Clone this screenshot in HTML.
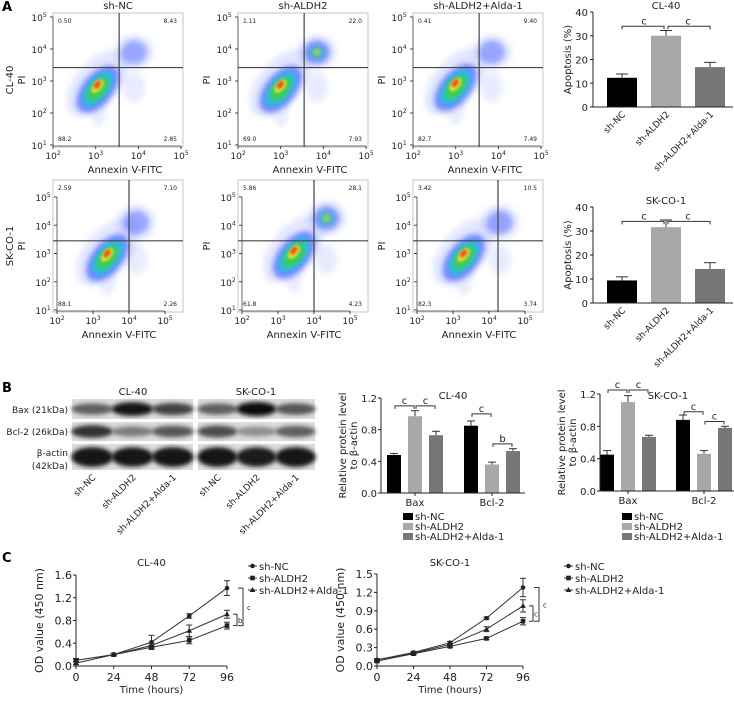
<!DOCTYPE html>
<html><head><meta charset="utf-8"><style>
html,body{margin:0;padding:0;background:#fff}
svg{display:block;font-family:"DejaVu Sans","Liberation Sans",sans-serif}
</style></head><body>
<svg id="fig" width="734" height="702" viewBox="0 0 734 702" xmlns="http://www.w3.org/2000/svg">
<defs>
<filter id="bl3" x="-50%" y="-50%" width="200%" height="200%"><feGaussianBlur stdDeviation="3"/></filter>
<filter id="bl2" x="-50%" y="-50%" width="200%" height="200%"><feGaussianBlur stdDeviation="2"/></filter>
<filter id="bl1" x="-50%" y="-50%" width="200%" height="200%"><feGaussianBlur stdDeviation="1.3"/></filter>
</defs>
</svg>
<script>
const NS="http://www.w3.org/2000/svg";
const svg=document.getElementById('fig');
function el(tag,attrs,parent,text){const e=document.createElementNS(NS,tag);for(const k in attrs)e.setAttribute(k,attrs[k]);if(text!==undefined)e.textContent=text;(parent||svg).appendChild(e);return e;}
function txt(x,y,s,size,parent,anchor,extra){const t=el('text',Object.assign({x:x,y:y,'font-size':size,'text-anchor':anchor||'middle',fill:'#222'},extra||{}),parent,s);return t;}

[['A',2,11],['B',2,392],['C',2,562]].forEach(([s,x,y])=>{const t=txt(x,y,s,13,null,'start',{'font-weight':'bold',fill:'#000'});});

// ---------- Flow cytometry ----------
const flowTitles=['sh-NC','sh-ALDH2','sh-ALDH2+Alda-1'];
const flowRows=['CL-40','SK-CO-1'];
const flowQuad=[[['0.50','8.43','88.2','2.85'],['1.11','22.0','69.0','7.93'],['0.41','9.40','82.7','7.49']],
                [['2.59','7.10','88.1','2.26'],['5.86','28.1','61.8','4.23'],['3.42','10.5','82.3','3.74']]];
const flowMain=[[[3.05,2.75],[3.0,2.75],[3.0,2.8]],[[3.4,2.85],[3.45,2.95],[3.3,2.85]]];
const flowLate=[[[3.9,3.9,0.5],[3.85,3.9,1],[3.85,3.9,0.55]],[[4.2,4.1,0.55],[4.35,4.25,0.9],[4.3,4.1,0.6]]];
const flowGate=[[[3.55,3.42],[3.55,3.42],[3.55,3.42]],[[4.0,3.45],[4.0,3.45],[4.25,3.45]]];
const colX=[53,238,413];
const rowBox=[[13,147],[180,312]];
const rowTick=[[17,145],[197,310]];
flowRows.forEach((rn,r)=>{
  colX.forEach((cx,c)=>{
    const g=el('g',{},svg);
    
    
    const w=130;
    const x0=cx, x1=cx+w;
    const tx0=(r===1)?cx+4:cx, tx1=(r===1)?cx+112:cx+128;
    const [ty5,ty1]=rowTick[r];
    const X=v=>tx0+(v-2)/3*(tx1-tx0);
    const Y=v=>ty1-(v-1)/4*(ty1-ty5);
    const [by0,by1]=rowBox[r];
    el('rect',{x:x0,y:by0,width:w,height:by1-by0,fill:'#fff',stroke:'#c4c4c4','stroke-width':1},g);
    const m=flowMain[r][c], lt=flowLate[r][c];
    const clip='cp'+r+c;
    const cp=el('clipPath',{id:clip},g);el('rect',{x:x0,y:by0,width:w,height:by1-by0},cp);
    const pg=el('g',{'clip-path':'url(#'+clip+')'},g);
    const mx=X(m[0]),my=Y(m[1]);
    const rot='rotate(-50 '+mx+' '+my+')';
    el('ellipse',{cx:mx+4,cy:my-4,rx:40,ry:22,fill:'#8fa0ff',opacity:0.25,filter:'url(#bl3)',transform:rot},pg);
    el('ellipse',{cx:mx,cy:my+14,rx:9,ry:24,fill:'#8fa0ff',opacity:0.2,filter:'url(#bl3)'},pg);
    el('ellipse',{cx:mx,cy:my,rx:28,ry:15,fill:'#2a46ff',opacity:0.6,filter:'url(#bl3)',transform:rot},pg);
    el('ellipse',{cx:mx,cy:my,rx:21,ry:11,fill:'#1ec8d8',opacity:0.8,filter:'url(#bl2)',transform:rot},pg);
    el('ellipse',{cx:mx,cy:my,rx:14,ry:7.5,fill:'#40d040',opacity:0.9,filter:'url(#bl2)',transform:rot},pg);
    el('ellipse',{cx:mx+2,cy:my-2,rx:8,ry:4.5,fill:'#f0e030',opacity:0.9,filter:'url(#bl1)',transform:rot},pg);
    el('ellipse',{cx:mx+3,cy:my-3,rx:4.5,ry:2.8,fill:'#f04020',opacity:0.9,filter:'url(#bl1)',transform:rot},pg);
    const lx=X(lt[0]),ly=Y(lt[1]),lw=lt[2];
    el('ellipse',{cx:lx,cy:ly,rx:20,ry:18,fill:'#8fa0ff',opacity:0.22,filter:'url(#bl3)'},pg);
    el('ellipse',{cx:lx,cy:ly,rx:13,ry:12,fill:'#2a46ff',opacity:0.25+0.3*lw,filter:'url(#bl3)'},pg);
    if(lw>0.8){el('ellipse',{cx:lx,cy:ly,rx:8,ry:7,fill:'#20c8b0',opacity:0.6,filter:'url(#bl2)'},pg);
      el('ellipse',{cx:lx,cy:ly,rx:4,ry:4,fill:'#b0d830',opacity:0.6,filter:'url(#bl1)'},pg);}
    el('ellipse',{cx:lx,cy:Y(2.8),rx:11,ry:15,fill:'#6a80ff',opacity:0.15,filter:'url(#bl3)'},pg);
    const g0=flowGate[r][c];
    el('line',{x1:X(g0[0]),x2:X(g0[0]),y1:by0,y2:by1,stroke:'#444','stroke-width':1.2},g);
    el('line',{x1:x0,x2:x1,y1:Y(g0[1]),y2:Y(g0[1]),stroke:'#444','stroke-width':1.2},g);
    const q=flowQuad[r][c];
    txt(x0+5,by0+10,q[0],6,g,'start');txt(x1-6,by0+10,q[1],6,g,'end');
    txt(x0+5,by1-6,q[2],6,g,'start');txt(x1-6,by1-6,q[3],6,g,'end');
    el('line',{x1:tx0,x2:tx1,y1:ty1+1,y2:ty1+1,stroke:'#444','stroke-width':0.8},g);
    el('line',{x1:tx0,x2:tx0,y1:ty5,y2:ty1+1,stroke:'#444','stroke-width':0.8},g);
    for(let d=2;d<=5;d++){const xx=X(d);el('line',{x1:xx,x2:xx,y1:ty1+1,y2:ty1+4,stroke:'#444'},g);
      const t=txt(xx,ty1+14,'10',9,g);el('tspan',{'font-size':6,dy:-4},t,String(d));}
    for(let d=1;d<=5;d++){const yy=Y(d);el('line',{x1:tx0-3,x2:tx0,y1:yy,y2:yy,stroke:'#444'},g);
      const t=txt(tx0-14,yy+4,'10',9,g,'middle');el('tspan',{'font-size':6,dy:-4},t,String(d));}
    const xl=txt((tx0+tx1)/2+8,ty1+28,'Annexin V-FITC',10,g);
    const yl=txt(0,0,'PI',10,g,'middle',{transform:'translate('+(x0-28)+','+((by0+by1)/2)+') rotate(-90)'});
    
    if(r===0){const t=txt((x0+x1)/2,9,flowTitles[c],10,g);}
    if(c===0){const t=txt(0,0,rn,10,g,'middle',{transform:'translate('+(x0-40)+','+((by0+by1)/2)+') rotate(-90)'});}
  });
});

// ---------- Apoptosis bar charts ----------
const apoGroups=['sh-NC','sh-ALDH2','sh-ALDH2+Alda-1'];
const apoCL40=[12.3,30.0,16.8];
const apoCL40Err=[1.6,2.2,2.0];
const apoSK=[9.4,31.6,14.2];
const apoSKErr=[1.5,3.0,2.6];
const apoTicks=[0,10,20,30,40];
const barFill=['#000','#a8a8a8','#777'];
function apoChart(name,title,vals,errs,y40,y0){
  const g=el('g',{},svg);
  const ax=593,xEnd=733;
  const Y=v=>y0-(v/40)*(y0-y40);
  const cx=[622,666,710];
  txt(666,y40-3,title,10,g);
  vals.forEach((v,i)=>{
    const b=el('rect',{x:cx[i]-15,y:Y(v),width:30,height:Y(0)-Y(v),fill:barFill[i]},g);
    
    el('line',{x1:cx[i],x2:cx[i],y1:Y(v),y2:Y(v+errs[i]),stroke:'#333','stroke-width':1},g);
    el('line',{x1:cx[i]-6,x2:cx[i]+6,y1:Y(v+errs[i]),y2:Y(v+errs[i]),stroke:'#333','stroke-width':1},g);
    txt(0,0,apoGroups[i],9,g,'end',{transform:'translate('+(cx[i]+4)+','+(y0+8)+') rotate(-45)'});
  });
  el('line',{x1:ax,x2:ax,y1:y40,y2:y0,stroke:'#222'},g);
  el('line',{x1:ax,x2:xEnd,y1:y0,y2:y0,stroke:'#222'},g);
  apoTicks.forEach(t=>{el('line',{x1:ax-3,x2:ax,y1:Y(t),y2:Y(t),stroke:'#222'},g);txt(ax-5,Y(t)+4,String(t),10,g,'end');});
  const yl=txt(0,0,'Apoptosis (%)',10,g,'middle',{transform:'translate('+(ax-22)+','+((y40+y0)/2)+') rotate(-90)'});
  
  const by=Y(34);
  el('path',{d:'M'+cx[0]+' '+(by+3)+'V'+by+'H'+(cx[1]-2)+'V'+(by+3),fill:'none',stroke:'#333'},g);
  el('path',{d:'M'+(cx[1]+2)+' '+(by+3)+'V'+by+'H'+cx[2]+'V'+(by+3),fill:'none',stroke:'#333'},g);
  txt((cx[0]+cx[1])/2,by-2,'c',10,g);txt((cx[1]+cx[2])/2,by-2,'c',10,g);
}
apoChart('apoptosis-chart-cl-40','CL-40',apoCL40,apoCL40Err,12,107);
apoChart('apoptosis-chart-sk-co-1','SK-CO-1',apoSK,apoSKErr,207,303);

// ---------- Western blot ----------
const wbRows=['Bax (21kDa)','Bcl-2 (26kDa)','β-actin'];
const wbIntCL=[[0.55,0.95,0.7],[0.8,0.4,0.6],[0.95,0.92,0.95]];
const wbIntSK=[[0.55,1.0,0.6],[0.65,0.3,0.55],[0.95,0.9,0.95]];
(function(){
  const g=el('g',{},svg);
  txt(133,395,'CL-40',10,g);txt(256,395,'SK-CO-1',10,g);
  const rowsY=[[399,419],[422,441],[444,470]];
  [[72,193,wbIntCL],[198,315,wbIntSK]].forEach(([x0,x1,ints])=>{
    rowsY.forEach(([y0,y1],ri)=>{
      el('rect',{x:x0,y:y0,width:x1-x0,height:y1-y0,fill:'#dcdcdc'},g);
      const lw=(x1-x0)/3;
      for(let l=0;l<3;l++){
        const v=ints[ri][l];const cy=(y0+y1)/2;
        const shade=Math.round(200-190*v);
        el('ellipse',{cx:x0+lw*(l+0.5),cy:cy,rx:lw*0.52,ry:(ri===2?7:4)+3*v,fill:'rgb('+shade+','+shade+','+shade+')',filter:'url(#bl2)'},g);
      }
    });
    const lw=(x1-x0)/3;
    apoGroups.forEach((n,l)=>{txt(0,0,n,9,g,'end',{transform:'translate('+(x0+lw*(l+0.5)+4)+','+478+') rotate(-45)'});});
  });
  txt(68,413,wbRows[0],9,g,'end');txt(68,435,wbRows[1],9,g,'end');
  txt(68,456,'β-actin',9,g,'end');txt(68,469,'(42kDa)',9,g,'end');
})();

// ---------- Protein bar charts ----------
const protCats=['Bax','Bcl-2'];
const protCL_NC=[0.48,0.85];
const protCL_AL=[0.97,0.36];
const protCL_AA=[0.73,0.53];
const protCL_Err=[[0.02,0.06],[0.07,0.03],[0.05,0.03]];
const protSK_NC=[0.45,0.88];
const protSK_AL=[1.10,0.46];
const protSK_AA=[0.67,0.78];
const protSK_Err=[[0.05,0.06],[0.08,0.04],[0.02,0.02]];
const protTicks=[0,0.4,0.8,1.2];
const protSeries=['sh-NC','sh-ALDH2','sh-ALDH2+Alda-1'];
function protChart(name,title,series,errs,ax,y12,y0,catC,bw,gap,xEnd,sigs,titleX){
  const g=el('g',{},svg);
  const Y=v=>y0-(v/1.2)*(y0-y12);
  txt(titleX,399,title,10,g);
  catC.forEach((c,ci)=>{
    series.forEach((s,si)=>{
      const cx=c+(si-1)*gap;const v=s[ci];
      const b=el('rect',{x:cx-bw/2,y:Y(v),width:bw,height:Y(0)-Y(v),fill:barFill[si]},g);
      
      const e=errs[si][ci];
      el('line',{x1:cx,x2:cx,y1:Y(v),y2:Y(v+e),stroke:'#333'},g);
      el('line',{x1:cx-4,x2:cx+4,y1:Y(v+e),y2:Y(v+e),stroke:'#333'},g);
    });
    txt(c,y0+13,protCats[ci],10,g);
  });
  el('line',{x1:ax,x2:ax,y1:y12,y2:y0,stroke:'#222'},g);
  el('line',{x1:ax,x2:xEnd,y1:y0,y2:y0,stroke:'#222'},g);
  catC.forEach(c=>el('line',{x1:c,x2:c,y1:y0,y2:y0+3,stroke:'#222'},g));
  protTicks.forEach(t=>{el('line',{x1:ax-3,x2:ax,y1:Y(t),y2:Y(t),stroke:'#222'},g);txt(ax-4,Y(t)+4,t.toFixed(1),10,g,'end');});
  txt(0,0,'Relative protein level',10,g,'middle',{transform:'translate('+(ax-35)+','+((y12+y0)/2)+') rotate(-90)'});
  txt(0,0,'to β-actin',10,g,'middle',{transform:'translate('+(ax-24)+','+((y12+y0)/2)+') rotate(-90)'});
  sigs.forEach(([ci,a,b,v,lab])=>{
    const xa=catC[ci]+(a-1)*gap, xb=catC[ci]+(b-1)*gap, yy=Y(v);
    el('path',{d:'M'+(xa+1)+' '+(yy+3)+'V'+yy+'H'+(xb-1)+'V'+(yy+3),fill:'none',stroke:'#333'},g);
    txt((xa+xb)/2,yy-2,lab,10,g);
  });
  const lx=ax+22;
  protSeries.forEach((s,i)=>{
    const ly=517+i*10;
    el('rect',{x:lx,y:ly-4,width:10,height:7,fill:barFill[i]},g);
    const t=txt(lx+12,ly+3,s,10,g,'start');
  });
}
protChart('protein-chart-cl-40','CL-40',[protCL_NC,protCL_AL,protCL_AA],protCL_Err,381,398,493,[415,492],14,21,525,
  [[0,0,1,1.1,'c'],[0,1,2,1.1,'c'],[1,0,1,1.0,'c'],[1,1,2,0.62,'b']],453);
protChart('protein-chart-sk-co-1','SK-CO-1',[protSK_NC,protSK_AL,protSK_AA],protSK_Err,600,394,491,[628,704],14,21,734,
  [[0,0,1,1.25,'c'],[0,1,2,1.25,'c'],[1,0,1,0.98,'c'],[1,1,2,0.86,'c']],668);

// ---------- Growth curves ----------
const timePts=[0,24,48,72,96];
const odCL_NC=[0.10,0.20,0.42,0.88,1.37];
const odCL_AL=[0.10,0.20,0.33,0.45,0.71];
const odCL_AA=[0.05,0.20,0.36,0.62,0.91];
const odCL_Err=[[0.03,0.02,0.12,0.04,0.13],[0.02,0.02,0.04,0.06,0.06],[0.02,0.02,0.04,0.1,0.07]];
const odSK_NC=[0.10,0.22,0.38,0.78,1.28];
const odSK_AL=[0.08,0.20,0.32,0.45,0.73];
const odSK_AA=[0.10,0.21,0.35,0.60,0.98];
const odSK_Err=[[0.02,0.02,0.02,0.02,0.15],[0.02,0.02,0.02,0.02,0.06],[0.02,0.02,0.02,0.04,0.1]];
const odTicksCL=[0,0.4,0.8,1.2,1.6];
const odTicksSK=[0,0.3,0.6,0.9,1.2,1.5];
function marker(g,kind,x,y){
  if(kind===0)el('circle',{cx:x,cy:y,r:2.3,fill:'#222'},g);
  else if(kind===1)el('rect',{x:x-2.3,y:y-2.3,width:4.6,height:4.6,fill:'#222'},g);
  else el('path',{d:'M'+x+' '+(y-3)+'L'+(x+2.8)+' '+(y+2)+'L'+(x-2.8)+' '+(y+2)+'Z',fill:'#222'},g);
}
function lineChart(name,title,series,errs,ticks,ymax,ax,x96,ytop,y0,legX,br){
  const g=el('g',{},svg);
  const X=t=>ax+t/96*(x96-ax);
  const Y=v=>y0-v/ymax*(y0-ytop);
  txt((ax+x96)/2,566,title,10,g);
  series.forEach((s,si)=>{
    const sg=el('g',{},g);
    el('polyline',{points:timePts.map((t,i)=>X(t)+','+Y(s[i])).join(' '),fill:'none',stroke:'#333','stroke-width':1},sg);
    timePts.forEach((t,i)=>{
      const e=errs[si][i];
      el('line',{x1:X(t),x2:X(t),y1:Y(s[i]-e),y2:Y(s[i]+e),stroke:'#333'},sg);
      el('line',{x1:X(t)-3,x2:X(t)+3,y1:Y(s[i]+e),y2:Y(s[i]+e),stroke:'#333'},sg);
      el('line',{x1:X(t)-3,x2:X(t)+3,y1:Y(s[i]-e),y2:Y(s[i]-e),stroke:'#333'},sg);
      marker(sg,si,X(t),Y(s[i]));
    });
  });
  el('line',{x1:ax,x2:ax,y1:ytop,y2:y0,stroke:'#222'},g);
  el('line',{x1:ax,x2:x96,y1:y0,y2:y0,stroke:'#222'},g);
  timePts.forEach(t=>{el('line',{x1:X(t),x2:X(t),y1:y0,y2:y0+3,stroke:'#222'},g);txt(X(t),y0+15,String(t),11,g);});
  ticks.forEach(t=>{el('line',{x1:ax-3,x2:ax,y1:Y(t),y2:Y(t),stroke:'#222'},g);txt(ax-4,Y(t)+4,t.toFixed(1),11,g,'end');});
  const xl=txt((ax+x96)/2,y0+27,'Time (hours)',10,g);
  const yl=txt(0,0,'OD value (450 nm)',11,g,'middle',{transform:'translate('+(ax-33)+','+((ytop+y0)/2)+') rotate(-90)'});
  
  const s=series;
  const yNC=Y(s[0][4]),yAL=Y(s[1][4]),yAA=Y(s[2][4]);
  el('path',{d:'M'+(x96+11)+' '+yNC+'H'+(x96+16)+'V'+yAL+'H'+(x96+11),fill:'none',stroke:'#333'},g);
  txt(x96+20,(yNC+yAL)/2+3,'c',7,g,'start');
  el('path',{d:'M'+(x96+6)+' '+yAA+'H'+(x96+10)+'V'+yAL+'H'+(x96+6),fill:'none',stroke:'#333'},g);
  txt(x96+11,(yAA+yAL)/2+3,br,7,g,'start');
  protSeries.forEach((n,i)=>{
    const ly=566+i*12;
    el('line',{x1:legX,x2:legX+9,y1:ly,y2:ly,stroke:'#333'},g);
    marker(g,i,legX+4.5,ly);
    const t=txt(legX+11,ly+4,n,10,g,'start');
  });
}
lineChart('growth-chart-cl-40','CL-40',[odCL_NC,odCL_AL,odCL_AA],odCL_Err,odTicksCL,1.6,76,227,575,666,248,'b');
lineChart('growth-chart-sk-co-1','SK-CO-1',[odSK_NC,odSK_AL,odSK_AA],odSK_Err,odTicksSK,1.5,377,523,574,666,564,'c');
</script>
</body></html>
